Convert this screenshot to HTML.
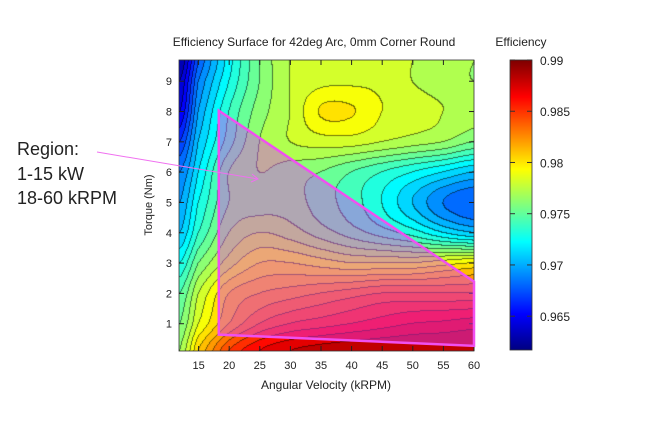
<!DOCTYPE html>
<html><head><meta charset="utf-8">
<style>
html,body{margin:0;padding:0;background:#fff;}
body{width:647px;height:427px;position:relative;overflow:hidden;font-family:"Liberation Sans",sans-serif;}
svg text{font-family:"Liberation Sans",sans-serif;fill:#222;}
#heat{position:absolute;left:179px;top:60px;}
#cbar{position:absolute;left:510px;top:60px;}
#ov{position:absolute;left:0;top:0;}
</style></head><body>
<canvas id="heat" width="295" height="291"></canvas>
<canvas id="cbar" width="22" height="290"></canvas>
<svg id="ov" width="647" height="427">
<g id="axes"></g>
</svg>
<script>
// data
const xVals=[12,15,20,25,30,35,40,45,50,55,60];
const yVals=[9.7,9,8,7,6,5,4,3,2,1,0.1];
const effRow97=[0.963,0.968,0.9725,0.976,0.978,0.9785,0.9785,0.9785,0.978,0.9775,0.977];
const effRow9=[0.964,0.969,0.973,0.976,0.978,0.9787,0.9788,0.9787,0.978,0.9775,0.977];
const effRow8=[0.965,0.970,0.974,0.9765,0.978,0.9801,0.9801,0.979,0.9785,0.978,0.9775];
const effRow7=[0.967,0.971,0.9745,0.977,0.978,0.9785,0.9785,0.978,0.9775,0.977,0.976];
const effRow6=[0.969,0.972,0.976,0.977,0.9765,0.976,0.975,0.974,0.973,0.972,0.971];
const effRow5=[0.970,0.973,0.976,0.9765,0.9765,0.9755,0.9745,0.973,0.971,0.969,0.968];
const effRow4=[0.971,0.974,0.977,0.978,0.9775,0.9765,0.9755,0.9745,0.9735,0.972,0.971];
const effRow3=[0.973,0.976,0.9785,0.980,0.980,0.9795,0.979,0.979,0.979,0.9795,0.980];
const effRow2=[0.975,0.978,0.981,0.982,0.9825,0.983,0.9835,0.984,0.984,0.984,0.984];
const effRow1=[0.976,0.979,0.982,0.984,0.985,0.9855,0.986,0.9865,0.987,0.9872,0.9875];
const effRow0=[0.977,0.981,0.985,0.987,0.988,0.9885,0.9888,0.989,0.989,0.989,0.989];
const grid=[effRow97,effRow9,effRow8,effRow7,effRow6,effRow5,effRow4,effRow3,effRow2,effRow1,effRow0];
const xTicks=[15,20,25,30,35,40,45,50,55,60];
const yTicks=[1,2,3,4,5,6,7,8,9];
const cTicks=[0.965,0.97,0.975,0.98,0.985,0.99];
const regionX=[18.3,60,60,18.3];
const regionY=[8.03,2.39,0.27,0.64];

const X0=179,X1=474,Y0=60,Y1=351,xmin=11.8,xmax=60,ymin=0.1,ymax=9.7;
const sx=v=>X0+(v-xmin)/(xmax-xmin)*(X1-X0);
const sy=v=>Y1-(v-ymin)/(ymax-ymin)*(Y1-Y0);
const cmin=0.9617,cmax=0.99;
function jet(t){t=Math.max(0,Math.min(1,t));
 const r=Math.max(0,Math.min(1,1.5-Math.abs(4*t-3))),g=Math.max(0,Math.min(1,1.5-Math.abs(4*t-2))),b=Math.max(0,Math.min(1,1.5-Math.abs(4*t-1)));
 return [r*255,g*255,b*255];}
function findIdx(vals,v){
 for(let i=0;i<vals.length-1;i++){const a=vals[i],b=vals[i+1];
  if((v-a)*(v-b)<=0) return i+(v-a)/(b-a);}
 return (v<vals[0])===(vals[0]<vals[1])?0:vals.length-1;}
function cr(p0,p1,p2,p3,t){return 0.5*((2*p1)+(-p0+p2)*t+(2*p0-5*p1+4*p2-p3)*t*t+(-p0+3*p1-3*p2+p3)*t*t*t);}
function gv(j,i){j=Math.max(0,Math.min(yVals.length-1,j));i=Math.max(0,Math.min(xVals.length-1,i));return grid[j][i];}
function value(x,y){
 const fi=findIdx(xVals,x),fj=findIdx(yVals,y);
 const i=Math.min(Math.floor(fi),xVals.length-2),j=Math.min(Math.floor(fj),yVals.length-2);
 const u=fi-i,w=fj-j;
 const rows=[];
 for(let k=-1;k<=2;k++)rows.push(cr(gv(j+k,i-1),gv(j+k,i),gv(j+k,i+1),gv(j+k,i+2),u));
 return cr(rows[0],rows[1],rows[2],rows[3],w);}
// heat map
const hc=document.getElementById('heat'),hx=hc.getContext('2d');
const W=hc.width,H=hc.height,step=0.001;
const lv=new Int32Array(W*H);
for(let py=0;py<H;py++)for(let px=0;px<W;px++){
 const x=xmin+(px+0.5)/W*(xmax-xmin),y=ymax-(py+0.5)/H*(ymax-ymin);
 lv[py*W+px]=Math.floor(value(x,y)/step);}
const img=hx.createImageData(W,H);
for(let p=0;p<W*H;p++){
 const px=p%W,py=(p/W)|0;
 let c=jet((lv[p]*step+0.0002-cmin)/(cmax-cmin));
 const edge=(px<W-1&&lv[p]!==lv[p+1])||(py<H-1&&lv[p]!==lv[p+W]);
 if(edge)c=[c[0]*0.45,c[1]*0.45,c[2]*0.45];
 img.data[p*4]=c[0];img.data[p*4+1]=c[1];img.data[p*4+2]=c[2];img.data[p*4+3]=255;}
hx.putImageData(img,0,0);
// colorbar
const cc=document.getElementById('cbar'),cx=cc.getContext('2d');
for(let py=0;py<cc.height;py++){const v=cmax-(py/cc.height)*(cmax-cmin);const c=jet((v-cmin)/(cmax-cmin));
 cx.fillStyle=`rgb(${c[0]|0},${c[1]|0},${c[2]|0})`;cx.fillRect(0,py,22,1);}
// svg
const NS='http://www.w3.org/2000/svg',g=document.getElementById('axes');
function el(t,a,txt){const e=document.createElementNS(NS,t);for(const k in a)e.setAttribute(k,a[k]);if(txt!==undefined)e.textContent=txt;g.appendChild(e);return e;}
let e;
e=el('rect',{x:X0,y:Y0,width:X1-X0,height:Y1-Y0,fill:'none',stroke:'#333','stroke-width':0.8});


xTicks.forEach(v=>{const x=sx(v);
 e=el('line',{x1:x,x2:x,y1:Y1,y2:Y1-5,stroke:'#222'});
 
 
 el('line',{x1:x,x2:x,y1:Y0,y2:Y0+5,stroke:'#222'});
 e=el('text',{x:x,y:369,'font-size':11,'text-anchor':'middle'},String(v));
 
 });
yTicks.forEach(v=>{const y=sy(v);
 e=el('line',{x1:X0,x2:X0+5,y1:y,y2:y,stroke:'#222'});
 
 
 el('line',{x1:X1,x2:X1-5,y1:y,y2:y,stroke:'#222'});
 e=el('text',{x:172,y:y+4,'font-size':11,'text-anchor':'end'},String(v));
 
 });
e=el('rect',{x:510,y:60,width:22,height:290,fill:'none',stroke:'#333','stroke-width':0.8});


cTicks.forEach(v=>{const y=60+(cmax-v)/(cmax-cmin)*290;
 e=el('line',{x1:510,x2:515,y1:y,y2:y,stroke:'#333'});
 
 
 el('line',{x1:527,x2:532,y1:y,y2:y,stroke:'#333'});
 e=el('text',{x:540,y:y+5,'font-size':12},String(v));
 
 });
const pts=regionX.map((v,i)=>sx(v)+','+sy(regionY[i])).join(' ');
e=el('polygon',{points:pts,fill:'rgba(220,60,255,0.45)',stroke:'#f050f0','stroke-width':2.5});


e=el('line',{x1:97,y1:152,x2:258,y2:179,stroke:'#f070f0','stroke-width':1});


el('polyline',{points:'252,174 258,179 251,182',fill:'none',stroke:'#f070f0','stroke-width':1});
e=el('text',{x:314,y:46,'font-size':12,'text-anchor':'middle'},'Efficiency Surface for 42deg Arc, 0mm Corner Round');


e=el('text',{x:521,y:46,'font-size':12,'text-anchor':'middle'},'Efficiency');


e=el('text',{x:326,y:389,'font-size':12,'text-anchor':'middle'},'Angular Velocity (kRPM)');


e=el('text',{x:0,y:0,'font-size':11,'text-anchor':'middle',transform:'translate(152,205) rotate(-90)'},'Torque (Nm)');


[['Region:',155],['1-15 kW',180],['18-60 kRPM',204]].forEach(([t,y])=>{
 e=el('text',{x:17,y:y,'font-size':18},t);
 
 });
</script>
</body></html>
